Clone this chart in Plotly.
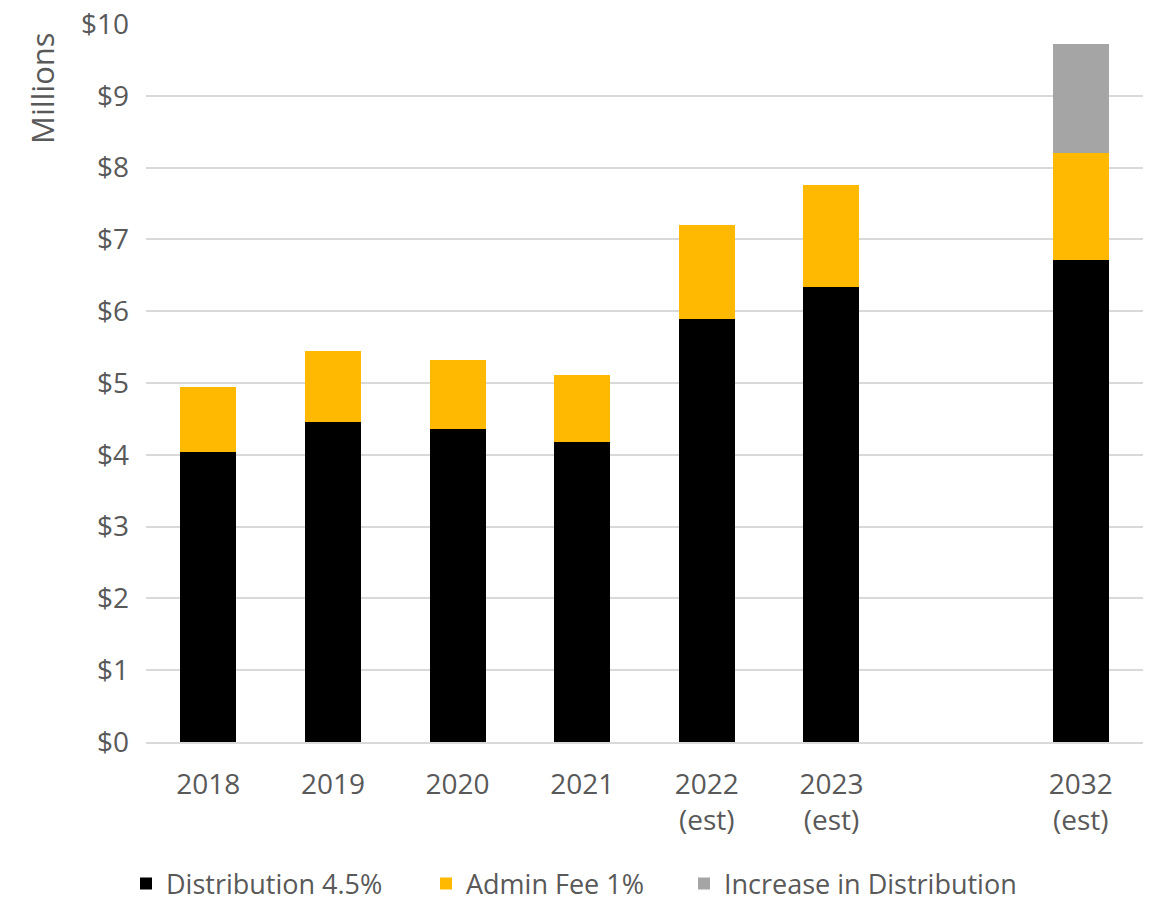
import plotly.graph_objects as go

categories = ["2018", "2019", "2020", "2021", "2022<br>(est)", "2023<br>(est)", " ", "2032<br>(est)"]
distribution = [4.04, 4.46, 4.36, 4.18, 5.89, 6.34, None, 6.71]
admin_fee = [0.90, 0.99, 0.96, 0.93, 1.31, 1.42, None, 1.49]
increase = [None, None, None, None, None, None, None, 1.52]
y_ticks = [0, 1, 2, 3, 4, 5, 6, 7, 8, 9, 10]
y_ticktext = ["$" + str(v) for v in y_ticks]

FONT = "Open Sans"
TXT = "#595959"

L, R, T, B = 146, 10, 24, 161
W, H = 1153, 903
PW = W - L - R
PH = H - T - B


def px_x(px):
    return (px - L) / PW


def px_y(py):
    return (H - B - py) / PH


fig = go.Figure()
fig.add_trace(go.Bar(x=categories, y=distribution, name="Distribution 4.5%",
                     marker=dict(color="#000000", line=dict(width=0)), legend="legend"))
fig.add_trace(go.Bar(x=categories, y=admin_fee, name="Admin Fee 1%",
                     marker=dict(color="#FFB900", line=dict(width=0)), legend="legend2"))
fig.add_trace(go.Bar(x=categories, y=increase, name="Increase in Distribution",
                     marker=dict(color="#A5A5A5", line=dict(width=0)), legend="legend3"))

leg_common = dict(orientation="h", xanchor="left", yanchor="middle", y=px_y(884),
                  font=dict(size=27, color=TXT, family=FONT), itemwidth=30,
                  bgcolor="rgba(0,0,0,0)")

fig.update_layout(
    width=W, height=H,
    barmode="stack", bargap=0.55,
    plot_bgcolor="white", paper_bgcolor="white",
    margin=dict(l=L, r=R, t=T, b=B, autoexpand=False),
    font=dict(family=FONT, color=TXT, size=28),
    showlegend=True,
    legend=dict(x=px_x(126), **leg_common),
    legend2=dict(x=px_x(426), **leg_common),
    legend3=dict(x=px_x(684), **leg_common),
    annotations=[dict(text="Millions", x=px_x(42), y=px_y(88), xref="paper", yref="paper",
                      textangle=-90, showarrow=False, xanchor="center", yanchor="middle",
                      font=dict(size=31, color=TXT, family=FONT))],
)
fig.update_xaxes(type="category", categoryorder="array", categoryarray=categories,
                 showgrid=False, showline=True, linecolor="#D9D9D9", linewidth=2,
                 tickfont=dict(size=28, color=TXT), ticks="", ticklabelstandoff=16,
                 automargin=False)
fig.update_yaxes(range=[0, 10], tickvals=y_ticks, ticktext=y_ticktext,
                 showgrid=True, gridcolor="#D9D9D9", gridwidth=2,
                 zeroline=False, showline=False,
                 tickfont=dict(size=28, color=TXT), ticks="", ticklabelstandoff=16,
                 automargin=False)

fig.write_html("out.html")
